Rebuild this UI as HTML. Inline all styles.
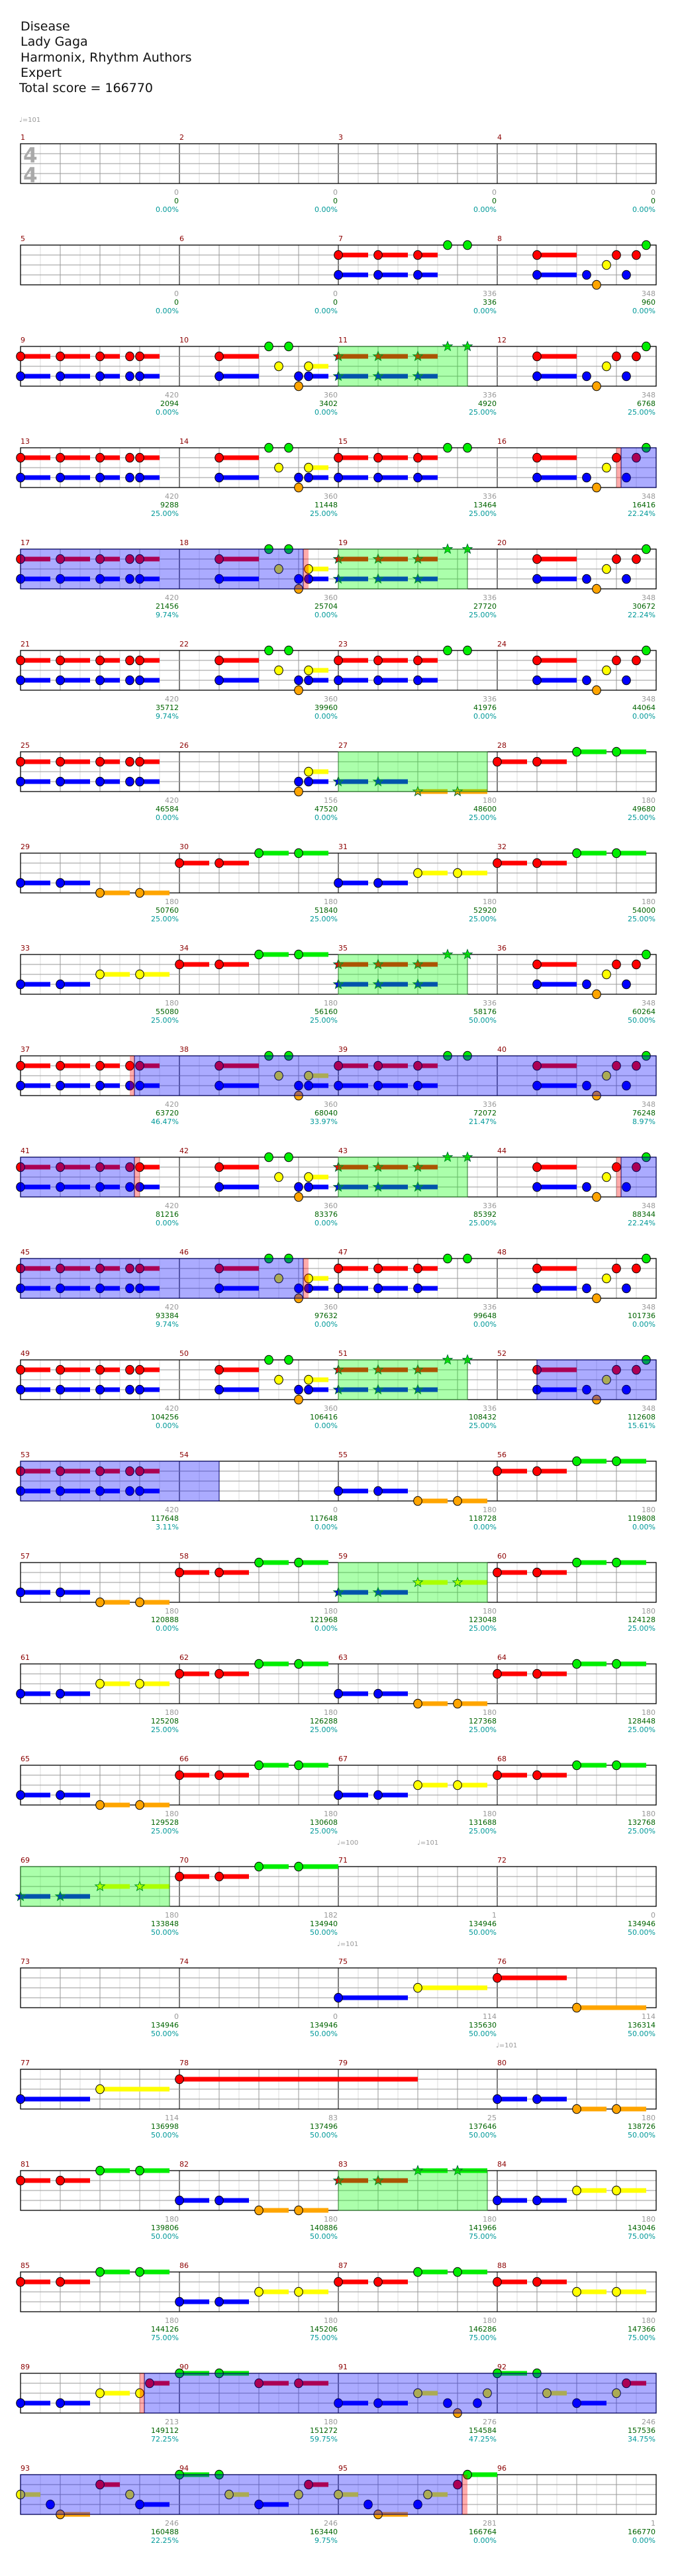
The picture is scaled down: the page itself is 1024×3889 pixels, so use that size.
<!DOCTYPE html>
<html><head><meta charset="utf-8">
<style>
html,body{margin:0;padding:0;background:#fff;}
body{width:1024px;height:3889px;overflow:hidden;font-family:"DejaVu Sans","Liberation Sans",sans-serif;}
#title{position:absolute;left:31px;top:29px;font-size:19px;line-height:23.3px;color:#111;}
svg{position:absolute;left:0;top:0;}
</style></head>
<body>
<div id="title">
<div>Disease</div>
<div>Lady Gaga</div>
<div>Harmonix, Rhythm Authors</div>
<div>Expert</div>
<div style="margin-left:-2px">Total score = 166770</div>
</div>
<svg id="chart" width="1024" height="3889" xmlns="http://www.w3.org/2000/svg"></svg>
<script>
// ---- data ----
const patA=[[1,0,45],[3,0,45],[1,60,45],[3,60,45],[1,120,30],[3,120,30],[1,165,0],[3,165,0],[1,180,30],[3,180,30]];
const patAP=[[1,0,45],[3,0,45],[1,60,45],[3,60,45],[1,120,30],[3,120,30],[0,165,0],[0,195,0]];
const patB=[[1,60,60],[3,60,60],[0,135,0],[2,150,0],[0,165,0],[4,180,0],[3,180,0],[2,195,30],[3,195,30]];
const patD=[[1,60,60],[3,60,60],[3,135,0],[4,150,0],[2,165,0],[1,180,0],[3,195,0],[1,210,0],[0,225,0]];
const patBT=[[4,180,0],[3,180,0],[2,195,30],[3,195,30]];
const patBO=[[3,0,45],[3,60,45],[4,120,45],[4,180,45]];
const patRG=[[1,0,45],[1,60,45],[0,120,45],[0,180,45]];
const patRG2=[[1,0,45],[1,60,45],[0,120,45],[0,180,60]];
const patBY=[[3,0,45],[3,60,45],[2,120,45],[2,180,45]];
const patRY=[[1,0,45],[1,60,45],[2,120,45],[2,180,45]];
const patM75=[[3,0,105],[2,120,105]];
const patM76=[[1,0,105],[4,120,105]];
const patM78=[[1,0,360]];
const patM89=[[3,0,45],[3,60,45],[2,120,45],[2,180,0],[1,195,30]];
const patM90=[[0,0,45],[0,60,45],[1,120,45],[1,180,45]];
const patM91=[[3,0,45],[3,60,45],[2,120,30],[3,165,0],[4,180,0],[3,210,0],[2,225,0]];
const patM92=[[0,0,45],[0,60,0],[2,75,30],[3,120,45],[2,180,0],[1,195,30]];
const patM93=[[2,0,30],[3,45,0],[4,60,45],[1,120,30],[2,165,0],[3,180,45]];
const patM95=[[2,0,30],[3,45,0],[4,60,45],[3,120,0],[2,135,30],[1,180,0],[0,195,45]];
const measurePatterns=[null,null,null,null,null,null,patAP,patD,
 patA,patB,patAP,patD, patA,patB,patAP,patD, patA,patB,patAP,patD, patA,patB,patAP,patD,
 patA,patBT,patBO,patRG, patBO,patRG,patBY,patRG, patBY,patRG,patAP,patD, patA,patB,patAP,patD,
 patA,patB,patAP,patD, patA,patB,patAP,patD, patA,patB,patAP,patD, patA,null,patBO,patRG,
 patBO,patRG,patBY,patRG, patBY,patRG,patBO,patRG, patBO,patRG,patBY,patRG, patBY,patRG2,null,null,
 null,null,patM75,patM76, patM75,patM78,null,patBO, patRG,patBO,patRG,patBY, patRG,patBY,patRG,patRY,
 patM89,patM90,patM91,patM92, patM93,patM92,patM95,null];
const spPhrases=[[11,0,195],[19,0,195],[27,0,225],[35,0,195],[43,0,195],[51,0,195],[59,0,225],[69,0,225],[83,0,225]];
const activations=[[16,180,18,195,1],[37,165,41,180,1],[44,180,46,195,1],[52,60,54,60,0],[89,180,95,195,1]];
const grayLabels=[0,0,0,0,0,0,336,348, 420,360,336,348, 420,360,336,348, 420,360,336,348, 420,360,336,348,
 420,156,180,180, 180,180,180,180, 180,180,336,348, 420,360,336,348, 420,360,336,348, 420,360,336,348,
 420,360,336,348, 420,0,180,180, 180,180,180,180, 180,180,180,180, 180,180,180,180, 180,182,1,0,
 0,0,114,114, 114,83,25,180, 180,180,180,180, 180,180,180,180, 213,180,276,246, 246,246,281,1];
const scoreLabels=[0,0,0,0,0,0,336,960,
 2094,3402,4920,6768, 9288,11448,13464,16416, 21456,25704,27720,30672, 35712,39960,41976,44064,
 46584,47520,48600,49680, 50760,51840,52920,54000, 55080,56160,58176,60264, 63720,68040,72072,76248,
 81216,83376,85392,88344, 93384,97632,99648,101736, 104256,106416,108432,112608, 117648,117648,118728,119808,
 120888,121968,123048,124128, 125208,126288,127368,128448, 129528,130608,131688,132768, 133848,134940,134946,134946,
 134946,134946,135630,136314, 136998,137496,137646,138726, 139806,140886,141966,143046, 144126,145206,146286,147366,
 149112,151272,154584,157536, 160488,163440,166764,166770];
const pctLabels=[0,0,0,0,0,0,0,0,
 0,0,25,25, 25,25,25,22.24, 9.74,0,25,22.24, 9.74,0,0,0,
 0,0,25,25, 25,25,25,25, 25,25,50,50, 46.47,33.97,21.47,8.97,
 0,0,25,22.24, 9.74,0,0,0, 0,0,25,15.61, 3.11,0,0,0,
 0,0,25,25, 25,25,25,25, 25,25,25,25, 50,50,50,50,
 50,50,50,50, 50,50,50,50, 50,50,75,75, 75,75,75,75,
 72.25,59.75,47.25,34.75, 22.25,9.75,0,0];
const tempoMarks=[[0,0,"101"],[17,480,"100"],[17,601,"101"],[18,480,"101"],[19,720,"101"]];

// ---- layout ----
const NS="http://www.w3.org/2000/svg";
const svg=document.getElementById('chart');
const LEFT=31, MW=240, TOP0=217, ROWH=153, LANE=15;
const laneColors=['#00ee00','#ff0000','#ffff00','#0000ff','#ffa500'];
function rowTop(r){return TOP0+r*ROWH;}
function xAbs(a){return LEFT+(a%960);}
function rowOf(a){return Math.floor(a/960);}
function absPos(m,p){return (m-1)*MW+p;}
function mk(tag,attrs,parent){const e=document.createElementNS(NS,tag);for(const k in attrs)e.setAttribute(k,attrs[k]);(parent||svg).appendChild(e);return e;}

const gGrid=mk('g',{});
const gSus=mk('g',{});
const gNotes=mk('g',{});
const gOver=mk('g',{});
const gText=mk('g',{});

// grid
for(let r=0;r<24;r++){
  const t=rowTop(r);
  for(let i=1;i<32;i++){
    const x=LEFT+i*30;
    const col=(i%8===0)?'#000':(i%2===0?'#999':'#ddd');
    mk('line',{x1:x,y1:t,x2:x,y2:t+60,stroke:col,'stroke-width':1},gGrid);
  }
  for(let l=1;l<4;l++) mk('line',{x1:LEFT,y1:t+l*LANE,x2:LEFT+960,y2:t+l*LANE,stroke:'#999','stroke-width':1},gGrid);
  mk('rect',{x:LEFT,y:t,width:960,height:60,fill:'none',stroke:'#000','stroke-width':1.3},gGrid);
  for(let k=0;k<4;k++){
    const m=r*4+k+1;
    const tx=mk('text',{x:LEFT+k*MW,y:t-6,fill:'#8b0000','font-size':11},gText);
    tx.textContent=m;
    
    
    const xe=LEFT+(k+1)*MW-1;
    const a=mk('text',{x:xe,y:t+77,fill:'#999','font-size':11,'text-anchor':'end'},gText);
    a.textContent=grayLabels[m-1];
    
    
    const b=mk('text',{x:xe,y:t+90,fill:'#006400','font-size':11,'text-anchor':'end'},gText);
    b.textContent=scoreLabels[m-1];
    
    
    const c=mk('text',{x:xe,y:t+103,fill:'#009999','font-size':11,'text-anchor':'end'},gText);
    c.textContent=pctLabels[m-1].toFixed(2)+'%';
    
    
  }
}
// time signature
[245,275].forEach(function(yb){
  const ts=mk('text',{x:35,y:yb,fill:'#aaa','font-size':31,'font-weight':'bold'},gGrid);
  ts.textContent='4';
  
  
});
// tempo marks
tempoMarks.forEach(function(tm){
  const t=rowTop(tm[0])-37, x=LEFT+tm[1];
  const tx=mk('text',{x:x-2,y:t+4,fill:'#999','font-size':10},gText);
  tx.textContent='\u2669='+tm[2];
  
  
});

function inSP(m,p){return spPhrases.some(function(s){return s[0]===m&&p>=s[1]&&p<=s[2];});}
function starPath(cx,cy,R){
  let d='';const r=R*0.42;
  for(let i=0;i<10;i++){const ang=-Math.PI/2+i*Math.PI/5;const rr=i%2?r:R;d+=(i?'L':'M')+(cx+rr*Math.cos(ang)).toFixed(2)+' '+(cy+rr*Math.sin(ang)).toFixed(2);}
  return d+'Z';
}
// notes
measurePatterns.forEach(function(pat,idx){
  if(!pat)return;
  const m=idx+1;
  pat.forEach(function(n){
    const a=absPos(m,n[1]);const r=rowOf(a);const x=xAbs(a);const y=rowTop(r)+n[0]*LANE;
    if(n[2]>0){
      const s=mk('rect',{x:x,y:y-3.5,width:n[2],height:7,fill:laneColors[n[0]]},gSus);
      
      
    }
    let e;
    if(inSP(m,n[1])){
      e=mk('path',{d:starPath(x,y,7.5),fill:laneColors[n[0]],stroke:'#063','stroke-width':1},gNotes);
      
    }else{
      e=mk('ellipse',{cx:x,cy:y,rx:6.3,ry:6.8,fill:laneColors[n[0]],stroke:'#000','stroke-width':1},gNotes);
      
    }
    
  });
});
// SP phrase overlays
spPhrases.forEach(function(s){
  const a=absPos(s[0],s[1]),b=absPos(s[0],s[2]);const t=rowTop(rowOf(a));const x=xAbs(a);
  const r=mk('rect',{x:x,y:t,width:b-a,height:60,fill:'rgba(0,255,0,0.33)',stroke:'#2a7a2a','stroke-width':1},gOver);
  
  
});
// activations (split across rows)
function band(a,b,fill,stroke,name){
  while(a<b){
    const r=rowOf(a);const end=Math.min(b,(r+1)*960);
    const el=mk('rect',{x:xAbs(a),y:rowTop(r),width:end-a,height:60,fill:fill,stroke:stroke,'stroke-width':stroke==='none'?0:1},gOver);
    
    
    a=end;
  }
}
activations.forEach(function(v){
  const a=absPos(v[0],v[1]),b=absPos(v[2],v[3]);
  if(v[4]){
    band(a+7,b-8,'rgba(0,0,255,0.33)','#000066','sp-activation');
    band(a,a+7,'rgba(255,0,0,0.33)','none','activation-start');
    band(b-8,b,'rgba(255,0,0,0.33)','none','activation-end');
  }else band(a,b,'rgba(0,0,255,0.33)','#000066','sp-activation');
});
</script>
</body></html>
